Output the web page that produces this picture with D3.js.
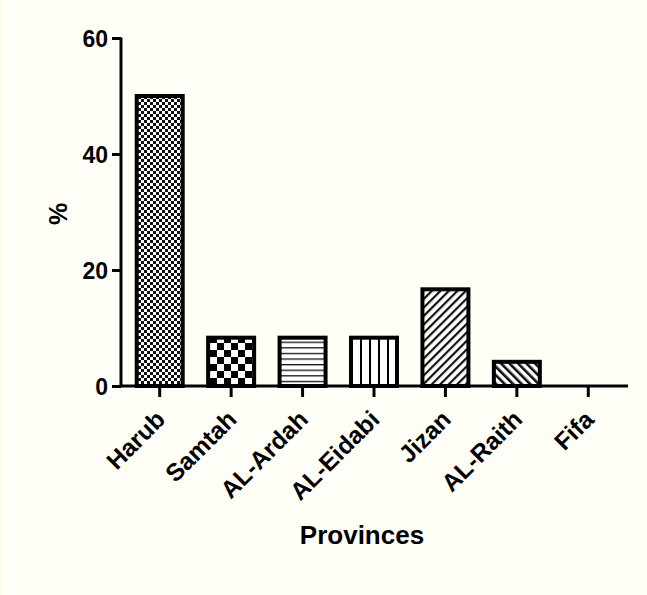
<!DOCTYPE html>
<html>
<head>
<meta charset="utf-8">
<script src="https://cdn.jsdelivr.net/npm/d3@7"></script>
<style>
  html, body { margin: 0; padding: 0; background: #fffff8; }
  svg { display: block; }
  text { font-family: Arial, "Liberation Sans", sans-serif; font-weight: bold; fill: #000; }
</style>
</head>
<body>
<svg id="chart" width="647" height="595"></svg>
<script>
// Share of samples by province (%)
const provinces = ["Harub", "Samtah", "AL-Ardah", "AL-Eidabi", "Jizan", "AL-Raith", "Fifa"];
const percents = [50, 8.33, 8.33, 8.33, 16.67, 4.17, 0];
const fills = ["fineCheck", "coarseCheck", "hLines", "vLines", "diagUp", "diagDown", "none"];
const yTicks = [0, 20, 40, 60];

const svg = d3.select("#chart");
svg.append("rect").attr("width", 647).attr("height", 595).attr("fill", "#fffff8");
svg.append("rect").attr("x", 0).attr("y", 0).attr("width", 2).attr("height", 595).attr("fill", "#fbfbe6");

// Hatch patterns for each bar
const defs = svg.append("defs");
function pattern(id, w, h, draw) {
  const p = defs.append("pattern").attr("id", id)
    .attr("patternUnits", "userSpaceOnUse").attr("width", w).attr("height", h);
  p.append("rect").attr("width", w).attr("height", h).attr("fill", "#fff");
  draw(p);
}
pattern("fineCheck", 6, 6, p => {
  p.append("rect").attr("width", 3).attr("height", 3).attr("fill", "#111");
  p.append("rect").attr("x", 3).attr("y", 3).attr("width", 3).attr("height", 3).attr("fill", "#111");
});
pattern("coarseCheck", 14, 14, p => {
  p.append("rect").attr("width", 7).attr("height", 7).attr("fill", "#000");
  p.append("rect").attr("x", 7).attr("y", 7).attr("width", 7).attr("height", 7).attr("fill", "#000");
});
pattern("hLines", 10, 5.6, p => {
  p.append("rect").attr("y", 0).attr("width", 10).attr("height", 1.3).attr("fill", "#111");
});
pattern("vLines", 9, 10, p => {
  p.append("rect").attr("x", 0).attr("width", 2).attr("height", 10).attr("fill", "#000");
});
pattern("diagUp", 6, 6, p => {
  p.attr("patternTransform", "rotate(45)");
  p.append("rect").attr("width", 2.2).attr("height", 6).attr("fill", "#111");
});
pattern("diagDown", 6, 6, p => {
  p.attr("patternTransform", "rotate(-45)");
  p.append("rect").attr("width", 2.6).attr("height", 6).attr("fill", "#111");
});

const x = d3.scaleBand().domain(provinces).range([124, 624]).paddingInner(0.356).paddingOuter(0.178);
const y = d3.scaleLinear().domain([0, 60]).range([386, 38]);

// Bars
const rows = provinces.map((p, i) => ({ p, v: percents[i], f: fills[i] }));
svg.append("g").selectAll("rect").data(rows.filter(d => d.v > 0)).join("rect")
  .attr("x", d => x(d.p))
  .attr("y", d => y(d.v))
  .attr("width", x.bandwidth())
  .attr("height", d => y(0) - y(d.v))
  .attr("fill", d => `url(#${d.f})`)
  .attr("stroke", "#000")
  .attr("stroke-width", 4);

// Y axis
const yAxis = svg.append("g").attr("transform", "translate(121,0)")
  .call(d3.axisLeft(y).tickValues(yTicks).tickSize(9).tickPadding(4));
yAxis.select(".domain").attr("stroke-width", 3).attr("d", "M0,386V37.5");
yAxis.selectAll(".tick line").attr("stroke-width", 3);
yAxis.selectAll(".tick text").style("font-size", "23px").attr("dy", "0.36em");

// X axis
const xAxis = svg.append("g").attr("transform", "translate(0,386)")
  .call(d3.axisBottom(x).tickSize(11).tickPadding(6));
xAxis.select(".domain").attr("stroke-width", 3).attr("d", "M119.5,0H628");
xAxis.selectAll(".tick line").attr("stroke-width", 3);
xAxis.selectAll(".tick text")
  .style("font-size", "24.5px")
  .attr("text-anchor", "end")
  .attr("x", 0).attr("y", 0).attr("dy", "0")
  .attr("transform", "translate(7,35) rotate(-45)");

// Axis titles
svg.append("text").attr("transform", "translate(67,214) rotate(-90)")
  .attr("text-anchor", "middle").style("font-size", "25px").text("%");
svg.append("text").attr("x", 362).attr("y", 544)
  .attr("text-anchor", "middle").style("font-size", "26px").text("Provinces");
</script>
</body>
</html>
